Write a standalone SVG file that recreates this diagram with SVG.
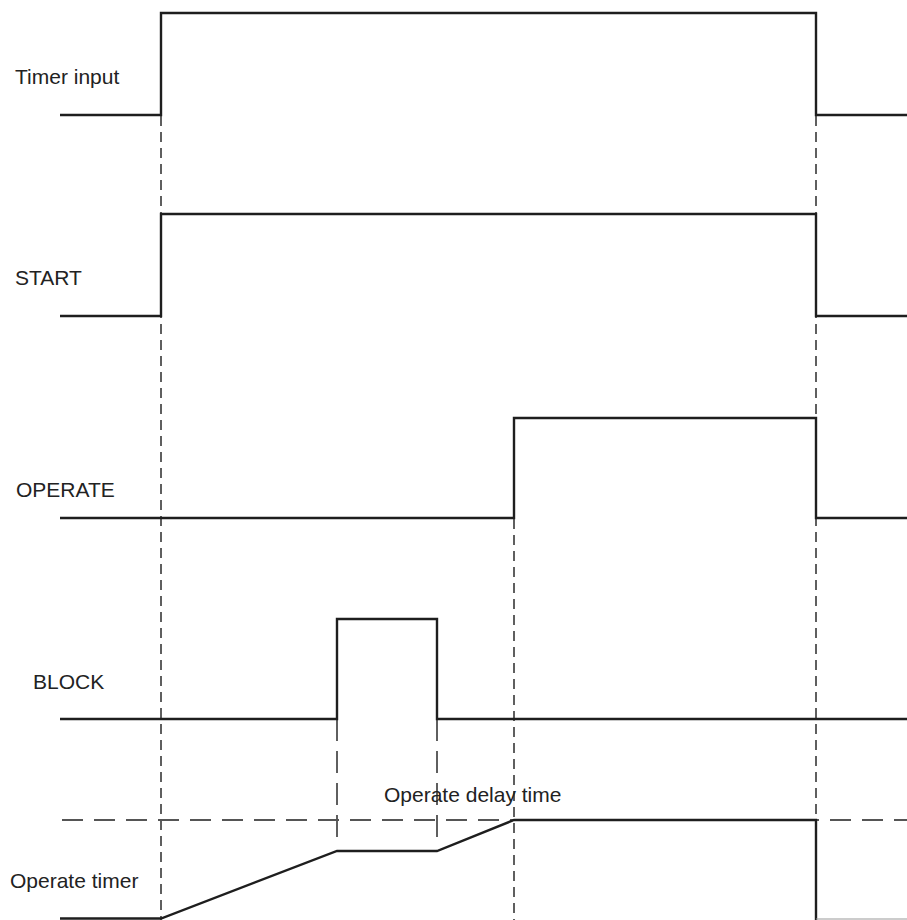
<svg xmlns="http://www.w3.org/2000/svg" width="907" height="920" viewBox="0 0 907 920">
<style>
.sig{fill:none;stroke:#1e1e1e;stroke-width:2.4;stroke-linejoin:miter}
.vd{fill:none;stroke:#444;stroke-width:1.7;stroke-dasharray:10 6}
.vl{fill:none;stroke:#444;stroke-width:1.7;stroke-dasharray:22 10}
.hd{fill:none;stroke:#555;stroke-width:1.8;stroke-dasharray:21 11}
.lbl{font-family:"Liberation Sans",Arial,sans-serif;font-size:21px;fill:#222}
</style>
<rect width="907" height="920" fill="#fff"/>
<g id="guides">
<line class="vd" x1="161" y1="116" x2="161" y2="920"/>
<line class="vd" x1="816" y1="116" x2="816" y2="920"/>
<line class="vd" x1="514" y1="519" x2="514" y2="920"/>
<line class="vl" x1="337" y1="719" x2="337" y2="838"/>
<line class="vl" x1="437" y1="719" x2="437" y2="838"/>
<line class="hd" x1="62" y1="820" x2="907" y2="820"/>
</g>
<g id="timer-input">
<text class="lbl" x="15" y="84">Timer input</text>
<polyline class="sig" points="60,115 161,115 161,13 816,13 816,115 907,115"/>
</g>
<g id="start">
<text class="lbl" x="15" y="285">START</text>
<polyline class="sig" points="60,316 161,316 161,214 816,214 816,316 907,316"/>
</g>
<g id="operate">
<text class="lbl" x="16" y="497">OPERATE</text>
<polyline class="sig" points="60,518 514,518 514,418 816,418 816,518 907,518"/>
</g>
<g id="block">
<text class="lbl" x="33" y="689">BLOCK</text>
<polyline class="sig" points="60,719 337,719 337,619 437,619 437,719 907,719"/>
</g>
<g id="operate-timer">
<text class="lbl" x="10" y="888">Operate timer</text>
<polyline class="sig" points="60,918.5 161,918.5 337,851 437,851 514,820 816,820 816,922"/>
<line x1="816" y1="919" x2="907" y2="919" stroke="#999" stroke-width="1.2"/>
</g>
<g id="delay-label">
<text class="lbl" x="384" y="802">Operate delay time</text>
</g>
</svg>
